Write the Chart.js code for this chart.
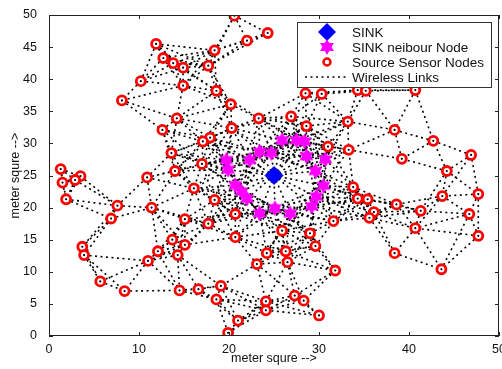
<!DOCTYPE html>
<html>
<head>
<meta charset="utf-8">
<script src="https://cdn.jsdelivr.net/npm/chart.js@4.4.1/dist/chart.umd.min.js"></script>
<style>
    html, body { margin: 0; padding: 0; background: #fff; overflow: hidden; }
    #wrap { width: 502px; height: 369px; overflow: hidden; }
    canvas { display: block; }
</style>
</head>
<body>
<div id="wrap"><canvas id="myChart" width="512" height="369"></canvas></div>
<script>
// Node positions (meters)
const sinkX = [25.0];
const sinkY = [25.0];

const neighbourX = [25.9, 27.5, 28.4, 23.4, 24.7, 22.3, 19.7, 28.6, 30.7, 19.9,
                    29.6, 20.7, 30.5, 21.4, 22.0, 29.7, 29.2, 23.4, 25.1, 26.8];
const neighbourY = [30.5, 30.5, 30.3, 28.7, 28.5, 27.4, 27.4, 28.0, 27.5, 25.9,
                    25.7, 23.5, 23.4, 22.5, 21.4, 21.7, 20.2, 19.1, 19.9, 19.1];

const sourceX = [20.6, 24.3, 22.0, 11.9, 18.4, 12.7, 13.8, 14.9, 17.7, 10.2,
                 14.9, 18.6, 8.1, 20.2, 23.3, 14.2, 20.3, 12.6, 17.9, 17.1,
                 13.6, 17.0, 14.0, 1.3, 3.5, 1.5, 2.9, 1.9, 7.6, 6.9,
                 10.9, 11.4, 16.1, 18.4, 15.1, 17.7, 20.7, 20.7, 13.7, 15.1,
                 3.7, 3.9, 12.1, 14.3, 11.0, 23.1, 24.2, 5.7, 8.4, 14.5,
                 16.6, 19.1, 18.6, 21.0, 19.9, 24.1, 24.1, 25.9, 29.0, 29.6,
                 26.3, 26.5, 31.8, 27.3, 28.3, 30.0, 44.2, 47.7, 43.7, 46.7,
                 47.7, 33.8, 34.3, 35.4, 38.6, 41.3, 36.1, 35.6, 40.7, 31.6,
                 38.4, 43.6, 28.5, 30.3, 34.3, 35.2, 40.7, 26.9, 28.6, 33.2,
                 38.4, 42.7, 46.9, 31.0, 33.3, 39.2];
const sourceY = [49.9, 47.2, 46.0, 45.5, 44.5, 43.3, 42.5, 41.8, 42.1, 39.7,
                 39.0, 38.2, 36.7, 36.1, 33.9, 33.9, 32.4, 32.1, 30.9, 30.3,
                 28.5, 26.8, 25.7, 26.0, 24.9, 23.9, 24.3, 21.3, 20.3, 18.3,
                 24.7, 20.0, 23.0, 21.2, 18.2, 17.5, 19.0, 15.4, 15.0, 14.2,
                 13.9, 12.6, 13.2, 12.6, 11.7, 11.2, 12.9, 8.5, 7.0, 7.1,
                 7.3, 7.8, 5.7, 2.4, 0.5, 5.4, 4.0, 16.4, 16.0, 14.0,
                 13.2, 11.5, 10.2, 6.3, 5.5, 3.2, 25.7, 22.1, 21.8, 19.0,
                 15.6, 23.2, 21.4, 21.3, 20.5, 19.5, 19.3, 18.4, 16.8, 17.9,
                 12.9, 10.4, 37.8, 37.7, 38.3, 38.2, 38.3, 34.2, 32.7, 33.4,
                 32.1, 30.4, 28.2, 29.5, 29.0, 27.6];

const xTicks = [0, 10, 20, 30, 40, 50];
const yTicks = [0, 5, 10, 15, 20, 25, 30, 35, 40, 45, 50];
const legendLabels = ['SINK', 'SINK neibour Node', 'Source Sensor Nodes', 'Wireless Links'];

// radio range and the few nearest nodes every node always talks to
const LINK_RANGE = 6.9;
const NEAREST = 4;

//========================================================

function toPoints(xs, ys) {
    return xs.map((x, i) => ({ x: x, y: ys[i] }));
}

// all nodes, then every linked pair becomes one dotted segment
const allX = sinkX.concat(neighbourX, sourceX);
const allY = sinkY.concat(neighbourY, sourceY);
const dist = (i, j) => Math.hypot(allX[i] - allX[j], allY[i] - allY[j]);
const links = new Set();
for (let i = 0; i < allX.length; i++) {
    const others = [];
    for (let j = 0; j < allX.length; j++) {
        if (j === i) continue;
        others.push(j);
        if (dist(i, j) < LINK_RANGE) links.add(Math.min(i, j) + '-' + Math.max(i, j));
    }
    others.sort((a, b) => dist(i, a) - dist(i, b));
    others.slice(0, NEAREST).forEach(j => links.add(Math.min(i, j) + '-' + Math.max(i, j)));
}
const linkPoints = [];
links.forEach(key => {
    const [i, j] = key.split('-').map(Number);
    linkPoints.push({ x: allX[i], y: allY[i] });
    linkPoints.push({ x: allX[j], y: allY[j] });
    linkPoints.push({ x: allX[j], y: null }); // break the line
});

// six pointed star (matlab hexagram marker)
function drawHexagram(ctx, cx, cy, r) {
    ctx.beginPath();
    for (let k = 0; k < 12; k++) {
        const a = -Math.PI / 2 + k * Math.PI / 6;
        const rr = (k % 2 === 0) ? r : r / Math.sqrt(3);
        const px = cx + rr * Math.cos(a);
        const py = cy + rr * Math.sin(a);
        if (k === 0) ctx.moveTo(px, py); else ctx.lineTo(px, py);
    }
    ctx.closePath();
    ctx.fill();
}

const hexImg = document.createElement('canvas');
hexImg.width = 17;
hexImg.height = 17;
(function () {
    const c = hexImg.getContext('2d');
    c.fillStyle = '#ff00ff';
    drawHexagram(c, 8.5, 8.5, 8);
})();

const FONT = '"Liberation Sans", Arial, sans-serif';

// frame with inward ticks on all four sides, plus the boxed legend
const framePlugin = {
    id: 'frame',
    afterDraw(chart) {
        const ctx = chart.ctx;
        const a = chart.chartArea;
        const sx = chart.scales.x;
        const sy = chart.scales.y;
        ctx.save();
        ctx.strokeStyle = '#222';
        ctx.lineWidth = 1;
        ctx.strokeRect(a.left + 0.5, a.top + 0.5, a.right - a.left - 1, a.bottom - a.top - 1);
        ctx.beginPath();
        xTicks.forEach(v => {
            const px = Math.round(sx.getPixelForValue(v)) + 0.5;
            ctx.moveTo(px, a.bottom); ctx.lineTo(px, a.bottom - 4);
            ctx.moveTo(px, a.top); ctx.lineTo(px, a.top + 4);
        });
        yTicks.forEach(v => {
            const py = Math.round(sy.getPixelForValue(v)) + 0.5;
            ctx.moveTo(a.left, py); ctx.lineTo(a.left + 4, py);
            ctx.moveTo(a.right, py); ctx.lineTo(a.right - 4, py);
        });
        ctx.stroke();

        // legend box
        const bx = a.right - 202, by = a.top + 7, bw = 194, bh = 65;
        ctx.fillStyle = '#fff';
        ctx.fillRect(bx, by, bw, bh);
        ctx.strokeStyle = '#333';
        ctx.strokeRect(bx + 0.5, by + 0.5, bw, bh);

        const mx = bx + 30, tx = bx + 55;
        const rows = [by + 10, by + 25, by + 40, by + 55];

        ctx.fillStyle = '#0000ff';
        ctx.beginPath();
        ctx.moveTo(mx, rows[0] - 9); ctx.lineTo(mx + 9, rows[0]);
        ctx.lineTo(mx, rows[0] + 9); ctx.lineTo(mx - 9, rows[0]);
        ctx.closePath(); ctx.fill();

        ctx.fillStyle = '#ff00ff';
        drawHexagram(ctx, mx, rows[1], 8);

        ctx.strokeStyle = '#ff0000';
        ctx.lineWidth = 2.5;
        ctx.fillStyle = '#fff';
        ctx.beginPath(); ctx.arc(mx, rows[2], 3.5, 0, Math.PI * 2); ctx.fill(); ctx.stroke();

        ctx.strokeStyle = '#000';
        ctx.lineWidth = 1.6;
        ctx.setLineDash([2, 3.5]);
        ctx.beginPath(); ctx.moveTo(bx + 8, rows[3]); ctx.lineTo(bx + 50, rows[3]); ctx.stroke();
        ctx.setLineDash([]);

        ctx.fillStyle = '#111';
        ctx.font = '13.5px ' + FONT;
        ctx.textBaseline = 'middle';
        ctx.textAlign = 'left';
        legendLabels.forEach((t, i) => ctx.fillText(t, tx, rows[i] + 1));
        ctx.restore();
    }
};

const ctx = document.getElementById('myChart').getContext('2d');
const myChart = new Chart(ctx, {
    type: 'scatter',
    data: {
        datasets: [
            {
                label: 'Wireless Links',
                data: linkPoints,
                showLine: true,
                spanGaps: false,
                borderColor: '#000',
                borderWidth: 1.6,
                borderDash: [2, 3.5],
                pointRadius: 0,
                pointHoverRadius: 0,
                order: 4
            },
            {
                label: 'Source Sensor Nodes',
                data: toPoints(sourceX, sourceY),
                pointStyle: 'circle',
                pointRadius: 4.5,
                borderWidth: 2.8,
                borderColor: '#ff0000',
                backgroundColor: '#fff',
                order: 3
            },
            {
                label: 'node centre',
                data: toPoints(sourceX, sourceY),
                pointStyle: 'circle',
                pointRadius: 1.1,
                borderWidth: 0,
                backgroundColor: '#000',
                order: 2
            },
            {
                label: 'SINK neibour Node',
                data: toPoints(neighbourX, neighbourY),
                pointStyle: hexImg,
                order: 1
            },
            {
                label: 'SINK',
                data: toPoints(sinkX, sinkY),
                pointStyle: 'rectRot',
                pointRadius: 9,
                borderWidth: 1,
                borderColor: '#0000cc',
                backgroundColor: '#0000ff',
                order: 0
            }
        ]
    },
    options: {
        responsive: false,
        animation: false,
        layout: {
            autoPadding: false,
            padding: { top: 15, right: 13, bottom: 0, left: 0 }
        },
        plugins: {
            legend: { display: false },
            tooltip: { enabled: false }
        },
        scales: {
            x: {
                type: 'linear',
                min: 0,
                max: 50,
                afterFit: s => { s.height = 33; },
                afterBuildTicks: s => { s.ticks = xTicks.map(v => ({ value: v })); },
                ticks: {
                    color: '#111',
                    padding: -2,
                    font: { family: FONT, size: 12.5 }
                },
                grid: { display: false },
                border: { display: false },
                title: {
                    display: true,
                    text: 'meter squre -->',
                    color: '#111',
                    padding: { top: 0, bottom: 3 },
                    font: { family: FONT, size: 12.5 }
                }
            },
            y: {
                type: 'linear',
                min: 0,
                max: 50,
                afterFit: s => { s.width = 49; },
                afterBuildTicks: s => { s.ticks = yTicks.map(v => ({ value: v })); },
                ticks: {
                    color: '#111',
                    padding: 4,
                    font: { family: FONT, size: 12.5 }
                },
                grid: { display: false },
                border: { display: false },
                title: {
                    display: true,
                    text: 'meter squre -->',
                    color: '#111',
                    padding: { top: 8, bottom: 0 },
                    font: { family: FONT, size: 12.5 }
                }
            }
        }
    },
    plugins: [framePlugin]
});
</script>
</body>
</html>
